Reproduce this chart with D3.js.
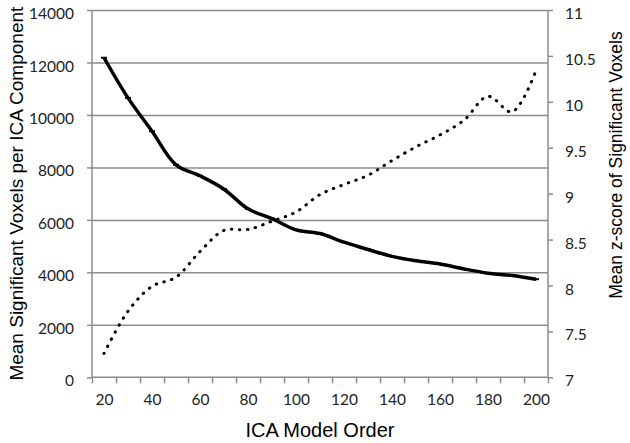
<!DOCTYPE html>
<html>
<head>
<meta charset="utf-8">
<script src="https://cdn.jsdelivr.net/npm/d3@7"></script>
<style>
  html, body { margin: 0; padding: 0; background: #fff; }
  svg { display: block; }
  .tick text { font-family: Lato, "Open Sans", sans-serif; font-size: 15.5px; fill: #222; }
  .title { font-family: "Liberation Sans", Arial, sans-serif; font-size: 19px; fill: #000; }
</style>
</head>
<body>
<svg id="chart" width="630" height="443"></svg>
<script>
// ---- data ----
const modelOrder = [20, 30, 40, 50, 60, 70, 80, 90, 100, 110, 120, 130, 140, 150, 160, 170, 180, 190, 200];
const meanVoxels = [12180, 10650, 9380, 8100, 7680, 7170, 6420, 6050, 5620, 5480, 5150, 4870, 4610, 4440, 4320, 4130, 3970, 3880, 3740];
const meanZ = [7.26, 7.72, 7.99, 8.09, 8.37, 8.60, 8.61, 8.70, 8.80, 8.99, 9.10, 9.20, 9.36, 9.51, 9.64, 9.80, 10.06, 9.89, 10.34];
const xTickLabels = [20, 40, 60, 80, 100, 120, 140, 160, 180, 200];
const xTickMarks = [15, 25, 35, 45, 55, 65, 75, 85, 95, 105, 115, 125, 135, 145, 155, 165, 175, 185, 195, 205];
const leftTicks = [0, 2000, 4000, 6000, 8000, 10000, 12000, 14000];
const rightTicks = [7, 7.5, 8, 8.5, 9, 9.5, 10, 10.5, 11];

// ---- layout ----
const L = 92, R = 548, T = 10, B = 377.3;
const gray = "#8c8c8c";
const svg = d3.select("#chart");

const x = d3.scaleLinear().domain([15, 205]).range([L, R]);
const yL = d3.scaleLinear().domain([0, 14000]).range([B, T]);
const yR = d3.scaleLinear().domain([7, 11]).range([B, T]);

// gridlines
svg.append("g")
  .attr("transform", `translate(${L},0)`)
  .call(d3.axisLeft(yL).tickValues(leftTicks.slice(1)).tickSize(-(R - L)).tickFormat(""))
  .call(g => g.select(".domain").remove())
  .call(g => g.selectAll("line").attr("stroke", gray).attr("stroke-width", 1.5));

// left axis
svg.append("g")
  .attr("transform", `translate(${L},0)`)
  .call(d3.axisLeft(yL).tickValues(leftTicks).tickSize(5).tickPadding(13).tickFormat(d3.format("d")))
  .call(g => g.select(".domain").attr("stroke", gray).attr("stroke-width", 1.5).attr("d", `M0,${B}V${T}`))
  .call(g => g.selectAll("line").attr("stroke", gray).attr("stroke-width", 1.5))
  .call(g => g.selectAll("text").attr("dy", "0.55em"));

// right axis
svg.append("g")
  .attr("transform", `translate(${R},0)`)
  .call(d3.axisRight(yR).tickValues(rightTicks).tickSize(5).tickPadding(12).tickFormat(d => d3.format("")(d)))
  .call(g => g.select(".domain").attr("stroke", gray).attr("stroke-width", 1.5).attr("d", `M0,${B}V${T}`))
  .call(g => g.selectAll("line").attr("stroke", gray).attr("stroke-width", 1.5))
  .call(g => g.selectAll("text").attr("dy", "0.55em"));

// bottom axis: tick marks
svg.append("g")
  .attr("transform", `translate(0,${B})`)
  .call(d3.axisBottom(x).tickValues(xTickMarks).tickSize(6).tickFormat(""))
  .call(g => g.select(".domain").attr("stroke", gray).attr("stroke-width", 1.5).attr("d", `M${L},0H${R}`))
  .call(g => g.selectAll("line").attr("stroke", gray).attr("stroke-width", 1.5));

// bottom axis: labels
svg.append("g")
  .attr("transform", `translate(0,${B})`)
  .call(d3.axisBottom(x).tickValues(xTickLabels).tickSize(0).tickPadding(17).tickFormat(d3.format("d")))
  .call(g => g.select(".domain").remove())
  .call(g => g.selectAll("text").attr("dy", "0.71em"));

// lines
const lineL = d3.line().x((d, i) => x(modelOrder[i])).y(d => yL(d)).curve(d3.curveCatmullRom.alpha(0.5));
const lineR = d3.line().x((d, i) => x(modelOrder[i])).y(d => yR(d)).curve(d3.curveCatmullRom.alpha(0.5));

svg.append("path")
  .datum(meanZ)
  .attr("d", lineR)
  .attr("fill", "none")
  .attr("stroke", "#000")
  .attr("stroke-width", 3)
  .attr("stroke-linecap", "round")
  .attr("stroke-dasharray", "0.5,7.5");

svg.append("path")
  .datum(meanVoxels)
  .attr("d", lineL)
  .attr("fill", "none")
  .attr("stroke", "#000")
  .attr("stroke-width", 3.5)
  .attr("stroke-linejoin", "round");

// small dash markers on solid series
svg.append("g").selectAll("line")
  .data(meanVoxels)
  .join("line")
  .attr("x1", (d, i) => x(modelOrder[i]) - 3)
  .attr("x2", (d, i) => x(modelOrder[i]) + 3)
  .attr("y1", d => yL(d))
  .attr("y2", d => yL(d))
  .attr("stroke", "#000")
  .attr("stroke-width", 2);

// titles
svg.append("text").attr("class", "title")
  .attr("x", (L + R) / 2).attr("y", 437)
  .attr("text-anchor", "middle")
  .style("font-size", "20px")
  .text("ICA Model Order");

svg.append("text").attr("class", "title")
  .attr("transform", `translate(23,${(T + B) / 2}) rotate(-90)`)
  .attr("text-anchor", "middle")
  .text("Mean Significant Voxels per ICA Component");

svg.append("text").attr("class", "title")
  .attr("transform", `translate(622,165) rotate(-90)`)
  .attr("text-anchor", "middle")
  .style("font-size", "17.5px")
  .text("Mean z-score of Significant Voxels");
</script>
</body>
</html>
